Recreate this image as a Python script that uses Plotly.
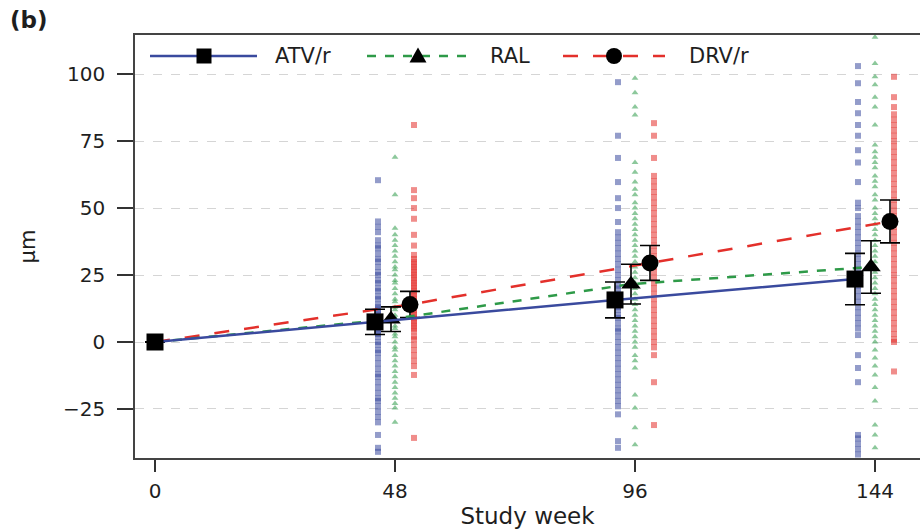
import plotly.graph_objects as go

weeks = [0, 48, 96, 144]
groups = ["ATV/r", "RAL", "DRV/r"]

mean_atv = [0, 7.5, 15.7, 23.5]
mean_ral = [0, 8.5, 21.6, 28.0]
mean_drv = [0, 14.0, 29.5, 45.0]
err_atv = [0, 4.7, 6.7, 9.6]
err_ral = [0, 4.6, 7.4, 9.8]
err_drv = [0, 4.9, 6.5, 8.0]

atv_48 = [60.4, 45, 43, 41, 38, 36, 35, 33, 31, 30, 28, 26, 25, 23, 22, 20, 19, 17, 16, 14, 13, 12, 11, 10, 9, 8, 7, 6, 5, 4, 3, 2, 0, -1, -3, -4, -6, -8, -10, -12, -13, -15, -17, -19, -21, -22, -24, -26, -28, -30, -34.7, -39.5, -41]
ral_48 = [69, 55, 42.5, 40, 38, 36, 34, 32, 30, 28, 27, 25, 23, 22, 20, 18, 16, 15, 13, 12, 10, 9, 8, 6, 5, 3, 2, 0, -2, -3, -5, -7, -9, -11, -13, -15, -17, -19, -21, -23, -24.6, -30]
drv_48 = [81, 56.7, 53.7, 50, 46, 40, 36, 32.5, 31, 30, 29, 28, 27, 26, 25, 24, 23, 22, 21, 20, 19, 18, 17, 16, 15, 14, 13, 12, 11, 10, 9, 8, 7, 6, 5, 4, 2, 1, -1, -3, -5, -7, -9, -12.3, -35.8]
atv_96 = [97, 77, 68.7, 59.7, 53.7, 50, 44.8, 41, 39, 37, 35, 33, 31, 29, 27, 25, 23, 21, 20, 18, 16, 15, 13, 12, 10, 9, 7, 5, 4, 2, 0, -2, -4, -6, -8, -10, -12, -14, -16, -18, -20, -22, -24, -27, -37, -39.5]
ral_96 = [98.5, 93, 87.7, 84.7, 67, 63.4, 59.7, 57, 55, 52, 50, 48, 46, 44, 42, 40, 38, 36, 34, 32, 30, 28, 26, 24, 22, 20, 18, 16, 14, 12, 10, 8, 6, 4, 2, 0, -2, -5, -7, -9.7, -19.8, -24.6, -32, -38.4]
drv_96 = [81.7, 77, 68.7, 62, 60, 58, 56, 54, 52, 50, 48, 46, 44, 42, 40, 38, 36, 34, 32, 30, 29, 28, 26, 24, 22, 20, 18, 16, 14, 12, 10, 8, 6, 4, 2, 0, -2, -4.9, -15, -31]
atv_144 = [103, 96.6, 89.6, 85.4, 81, 77, 71.6, 67, 59.7, 52, 50, 47, 45, 43, 41, 39, 37, 35, 33, 31, 29, 27, 25, 23, 21, 19, 17, 15, 13, 11, 9, 7, 5, 2.6, -4.9, -9.7, -15, -34.7, -36, -38, -40, -42]
ral_144 = [113.8, 104, 99, 96, 91.4, 87.7, 81, 73.5, 71, 69, 67, 65, 62, 60, 58, 55, 53, 50, 48, 46, 44, 42, 40, 38, 36, 34, 32, 30, 28, 26, 24, 22, 20, 18, 16, 14, 12, 10, 8, 6, 4, 2, 0, -3, -6, -9, -12.3, -17, -22, -31, -34.7, -39.5]
drv_144 = [99, 91.4, 87.7, 85, 83, 81, 79, 77, 75, 73, 71, 69, 67, 65, 63, 61, 59, 57, 55, 53, 51, 49, 47, 45, 43, 41, 39, 37, 35, 33, 31, 29, 27, 25, 23, 21, 19, 17, 15, 13, 11, 9, 7, 5, 3, 1, 0, -11]

y_ticks = [-25, 0, 25, 50, 75, 100]
x_ticks = [0, 48, 96, 144]

# styling
FONT = "DejaVu Sans, Liberation Sans, Arial, sans-serif"
TXT = "#1e1e1e"
colors = {"ATV/r": "#3a4a9e", "RAL": "#2e9a48", "DRV/r": "#e3302b"}
dashes = {"ATV/r": "solid", "RAL": "dash", "DRV/r": "longdash"}
msym = {"ATV/r": "square", "RAL": "triangle-up", "DRV/r": "circle"}
pt_sym = {"ATV/r": "square", "RAL": "triangle-up", "DRV/r": "square"}
mean_off = {"ATV/r": -4.0, "RAL": -0.8, "DRV/r": 3.0}
pt_off = {"ATV/r": -3.4, "RAL": 0.0, "DRV/r": 3.8}

means = {"ATV/r": mean_atv, "RAL": mean_ral, "DRV/r": mean_drv}
errs = {"ATV/r": err_atv, "RAL": err_ral, "DRV/r": err_drv}
pts = {
    "ATV/r": {48: atv_48, 96: atv_96, 144: atv_144},
    "RAL": {48: ral_48, 96: ral_96, 144: ral_144},
    "DRV/r": {48: drv_48, 96: drv_96, 144: drv_144},
}

fig = go.Figure()

# individual points
for g in groups:
    xs, ys = [], []
    for w, vals in pts[g].items():
        xs += [w + pt_off[g]] * len(vals)
        ys += vals
    fig.add_trace(go.Scatter(
        x=xs, y=ys, mode="markers", showlegend=False, hoverinfo="skip",
        marker=dict(symbol=pt_sym[g], size=6, color=colors[g], opacity=0.55,
                    line=dict(width=0)),
    ))

# mean lines with error bars
for g in ["DRV/r", "RAL", "ATV/r"]:
    xs = [w + (mean_off[g] if w > 0 else 0) for w in weeks]
    sizes = [17 if (i > 0 or g == "ATV/r") else 0 for i in range(len(weeks))]
    fig.add_trace(go.Scatter(
        x=xs, y=means[g], mode="lines+markers", name=g, showlegend=False,
        line=dict(color=colors[g], width=2.5, dash=dashes[g]),
        marker=dict(symbol=msym[g], size=sizes, color="black", opacity=1,
                    line=dict(width=0)),
        error_y=dict(type="data", array=errs[g], visible=True, color="black",
                     thickness=1.6, width=10),
    ))

# custom legend (paper coordinates)
PL, PW, PT, PH = 135, 785, 35, 423
def px(x):
    return (x - PL) / PW
def py(y):
    return 1 - (y - PT) / PH

leg_y = py(56)
leg_items = {
    "ATV/r": (150, 257, 204, 273),
    "RAL": (367, 467, 418, 488),
    "DRV/r": (563, 665, 614, 687),
}
shapes = []
for g in groups:
    x0, x1, xc, xt = leg_items[g]
    shapes.append(dict(type="line", xref="paper", yref="paper",
                       x0=px(x0), x1=px(x1), y0=leg_y, y1=leg_y,
                       line=dict(color=colors[g], width=2.5, dash=dashes[g])))
    common = dict(xref="paper", yref="paper", xsizemode="pixel", ysizemode="pixel",
                  xanchor=px(xc), yanchor=leg_y, fillcolor="black",
                  line=dict(width=0))
    if g == "ATV/r":
        shapes.append(dict(type="rect", x0=-7.5, x1=7.5, y0=-7.5, y1=7.5, **common))
    elif g == "DRV/r":
        shapes.append(dict(type="circle", x0=-8, x1=8, y0=-8, y1=8, **common))
    else:
        shapes.append(dict(type="path", path="M -8.5,-6.5 L 8.5,-6.5 L 0,8.5 Z", **common))
    fig.add_annotation(text=g, xref="paper", yref="paper", x=px(xt), y=leg_y,
                       xanchor="left", yanchor="middle", showarrow=False,
                       font=dict(family=FONT, size=21, color=TXT))

fig.add_annotation(text="<b>(b)</b>", xref="paper", yref="paper",
                   x=px(8), y=py(20), xanchor="left", yanchor="middle",
                   showarrow=False, font=dict(family=FONT, size=23, color=TXT))

fig.update_layout(
    width=920, height=531,
    margin=dict(l=135, r=0, t=35, b=73),
    plot_bgcolor="white", paper_bgcolor="white",
    font=dict(family=FONT, size=20, color=TXT),
    showlegend=False,
    shapes=shapes,
    xaxis=dict(range=[-4, 153], tickvals=x_ticks, ticktext=[str(t) for t in x_ticks],
               showgrid=False, zeroline=False, showline=True, linecolor="#444",
               linewidth=1.5, mirror=True, ticks="outside", ticklen=12, tickwidth=1.5,
               tickcolor="#333", tickfont=dict(size=20), ticklabelstandoff=2,
               title=dict(text="Study week", font=dict(size=23, color=TXT), standoff=6)),
    yaxis=dict(range=[-43.3, 114.6], tickvals=y_ticks,
               ticktext=[("\u2212" + str(-t)) if t < 0 else str(t) for t in y_ticks],
               showgrid=True, gridcolor="#d5d5d5", griddash="dash", gridwidth=1,
               zeroline=False, showline=True, linecolor="#444", linewidth=1.5,
               ticks="outside", ticklen=16, tickwidth=1.5, tickcolor="#333",
               tickfont=dict(size=20), ticklabelstandoff=8,
               title=dict(text="μm", font=dict(size=21, color=TXT), standoff=22)),
)

fig.write_html("out.html")
